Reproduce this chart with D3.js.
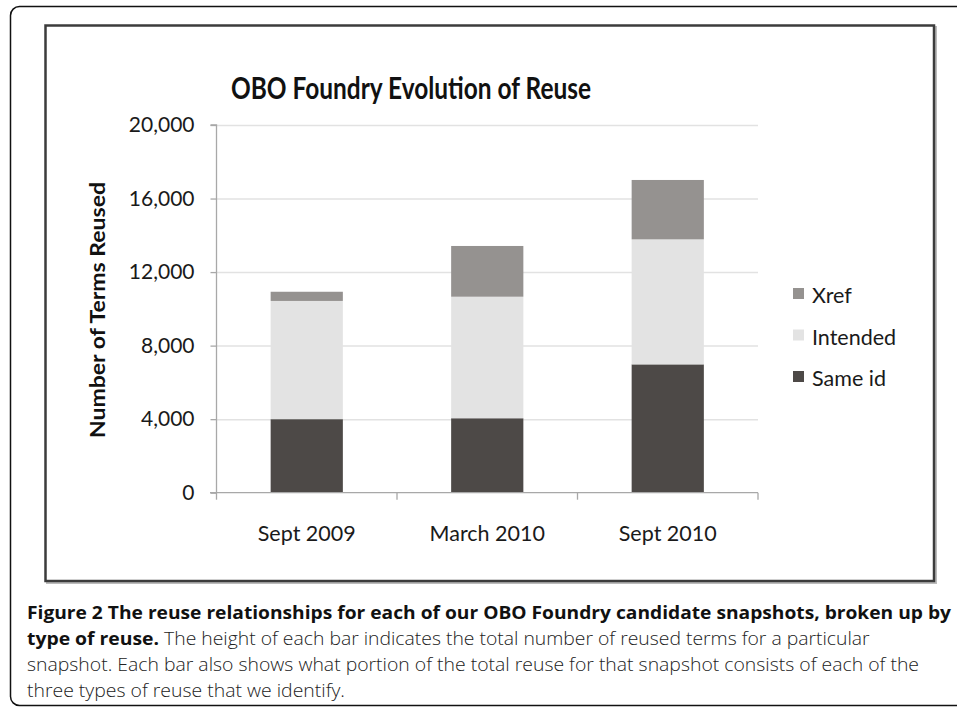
<!DOCTYPE html>
<html>
<head>
<meta charset="utf-8">
<script src="https://cdn.jsdelivr.net/npm/d3@7"></script>
<style>
  html, body { margin: 0; padding: 0; background: #fff; }
  svg { display: block; }
</style>
</head>
<body>
<svg id="chart" width="957" height="708"></svg>
<script>
// ---- data ----
const categories = ["Sept 2009", "March 2010", "Sept 2010"];
const seriesNames = ["Same id", "Intended", "Xref"];
const sameId   = [4000, 4050, 6980];
const intended = [6430, 6610, 6800];
const xref     = [500, 2760, 3230];
const yTicks   = [0, 4000, 8000, 12000, 16000, 20000];
const colors   = { "Same id": "#4d4947", "Intended": "#e3e3e3", "Xref": "#959290" };

const titleText = "OBO Foundry Evolution of Reuse";
const yLabel = "Number of Terms Reused";

const svg = d3.select("#chart");
const chartFont = "Lato, 'Open Sans', sans-serif";
const capFont = "'Open Sans', sans-serif";

// outer rounded border (runs off the right edge)
svg.append("rect")
  .attr("x", 10.5).attr("y", 6.5).attr("width", 1000).attr("height", 699)
  .attr("rx", 9).attr("fill", "none").attr("stroke", "#111").attr("stroke-width", 1.5);

// inner chart frame (with soft shadow)
svg.append("rect")
  .attr("x", 47).attr("y", 27).attr("width", 889).attr("height", 556)
  .attr("fill", "none").attr("stroke", "#bbb").attr("stroke-width", 2);
svg.append("rect")
  .attr("x", 45.5).attr("y", 25.5).attr("width", 888.5).attr("height", 555.5)
  .attr("fill", "#fff").attr("stroke", "#3c3c3c").attr("stroke-width", 2.5);

// scales
const y = d3.scaleLinear().domain([0, 20000]).range([492.7, 125]);
const x = d3.scaleBand().domain(categories).range([216.5, 758])
  .paddingInner(0.6).paddingOuter(0.3);

// gridlines
const grid = svg.append("g").attr("transform", "translate(216.5,0)")
  .call(d3.axisLeft(y).tickValues(yTicks.slice(1)).tickSize(-(758 - 216.5)).tickFormat(""));
grid.select(".domain").remove();
grid.selectAll("line").attr("stroke", "#e2e2e2").attr("stroke-width", 1.5);

// stacked bars
const rows = categories.map((c, i) => ({ cat: c, "Same id": sameId[i], "Intended": intended[i], "Xref": xref[i] }));
const stack = d3.stack().keys(seriesNames)(rows);
svg.append("g").selectAll("g").data(stack).join("g")
  .attr("fill", d => colors[d.key])
  .selectAll("rect").data(d => d).join("rect")
  .attr("x", d => x(d.data.cat))
  .attr("width", x.bandwidth())
  .attr("y", d => y(d[1]))
  .attr("height", d => y(d[0]) - y(d[1]));

// y axis
const yAxis = svg.append("g").attr("transform", "translate(216.5,0)")
  .call(d3.axisLeft(y).tickValues(yTicks).tickFormat(d3.format(",")).tickSize(6).tickPadding(16));
yAxis.select(".domain").attr("stroke", "#a8a8a8").attr("stroke-width", 1.3).attr("d", "M-6," + y(20000) + "H0V" + y(0));
yAxis.selectAll(".tick line").attr("stroke", "#a8a8a8").attr("stroke-width", 1.3);
yAxis.selectAll(".tick text").attr("font-family", chartFont).attr("font-size", 21).attr("fill", "#1a1a1a");

// x axis baseline with boundary ticks
const step = x.step();
const bounds = d3.range(categories.length + 1).map(i => 216.5 + i * step);
const xAxis = svg.append("g").attr("transform", "translate(0," + y(0) + ")")
  .call(d3.axisBottom(x).tickSize(0).tickPadding(33));
xAxis.select(".domain").attr("stroke", "#a8a8a8").attr("stroke-width", 1.3).attr("d", "M210,0H758");
xAxis.selectAll(".tick text").attr("font-family", chartFont).attr("font-size", 21.5).attr("fill", "#1a1a1a");
xAxis.selectAll(".bt").data(bounds).join("line").attr("class", "bt")
  .attr("x1", d => d).attr("x2", d => d).attr("y1", 0).attr("y2", 7)
  .attr("stroke", "#a8a8a8").attr("stroke-width", 1.3);

// y axis title
svg.append("text")
  .attr("transform", "translate(105,310) rotate(-90)")
  .attr("text-anchor", "middle")
  .attr("font-family", chartFont).attr("font-weight", "bold").attr("font-size", 21)
  .attr("textLength", 256).attr("lengthAdjust", "spacingAndGlyphs")
  .attr("fill", "#111")
  .text(yLabel);

// chart title
svg.append("text")
  .attr("x", 411).attr("y", 99)
  .attr("text-anchor", "middle")
  .attr("font-family", chartFont).attr("font-weight", "bold").attr("font-size", 30)
  .attr("textLength", 360).attr("lengthAdjust", "spacingAndGlyphs")
  .attr("fill", "#111")
  .text(titleText);

// legend
const legendKeys = ["Xref", "Intended", "Same id"];
const lg = svg.append("g");
legendKeys.forEach((k, i) => {
  const yy = 288 + i * 41.5;
  lg.append("rect").attr("x", 793).attr("y", yy).attr("width", 11).attr("height", 11).attr("fill", colors[k]);
  lg.append("text").attr("x", 812).attr("y", yy + 15)
    .attr("font-family", chartFont).attr("font-size", 21.5).attr("fill", "#1a1a1a").text(k);
});

// caption
const cap = svg.append("g").attr("font-family", capFont).attr("font-size", 18.5).attr("fill", "#111");
const l1 = cap.append("text").attr("x", 27).attr("y", 619).attr("font-weight", "bold")
  .text("Figure 2 The reuse relationships for each of our OBO Foundry candidate snapshots, broken up by");
const l2 = cap.append("text").attr("x", 27).attr("y", 645);
l2.append("tspan").attr("font-weight", "bold").text("type of reuse.");
l2.append("tspan").attr("font-weight", 300).attr("fill", "#222").text(" The height of each bar indicates the total number of reused terms for a particular");
const l3 = cap.append("text").attr("x", 27).attr("y", 671).attr("font-weight", 300).attr("fill", "#222")
  .text("snapshot. Each bar also shows what portion of the total reuse for that snapshot consists of each of the");
const l4 = cap.append("text").attr("x", 27).attr("y", 697).attr("font-weight", 300).attr("fill", "#222")
  .text("three types of reuse that we identify.");
// fit caption lines to the reference widths
[[l1, 924], [l3, 892], [l4, 318]].forEach(([t, w]) => {
  t.attr("textLength", w).attr("lengthAdjust", "spacingAndGlyphs");
});
const w2 = l2.node().getComputedTextLength();
const s2 = 843 / w2;
l2.attr("transform", "translate(27,0) scale(" + s2 + ",1) translate(-27,0)");
</script>
</body>
</html>
